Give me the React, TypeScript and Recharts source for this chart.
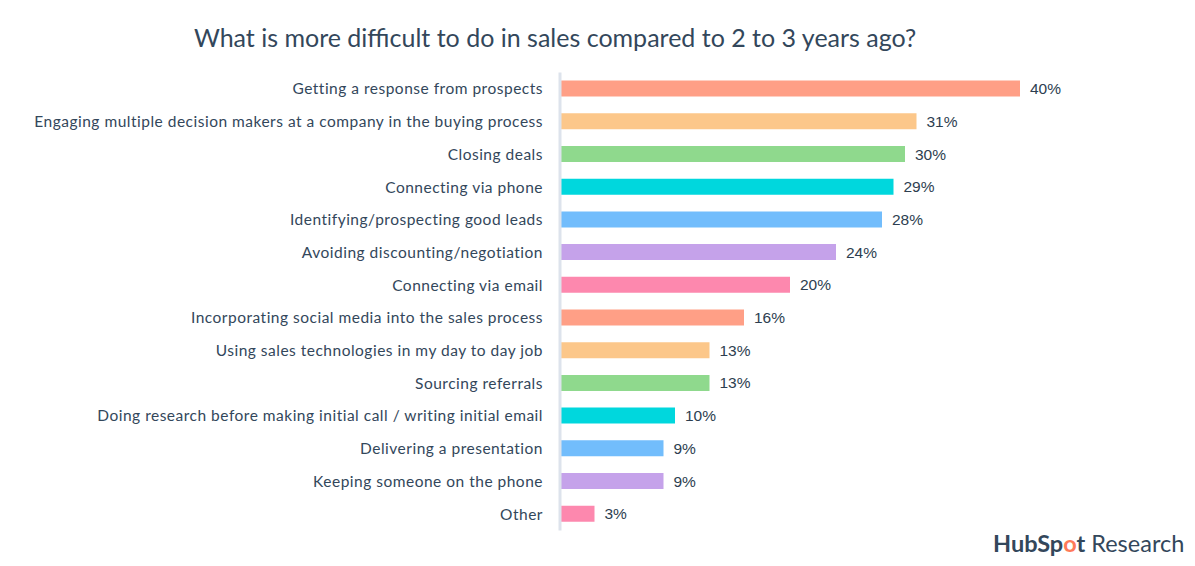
import React from 'react';
import { BarChart, Bar, XAxis, YAxis, Cell, LabelList } from 'recharts';

const categories = [
  'Getting a response from prospects',
  'Engaging multiple decision makers at a company in the buying process',
  'Closing deals',
  'Connecting via phone',
  'Identifying/prospecting good leads',
  'Avoiding discounting/negotiation',
  'Connecting via email',
  'Incorporating social media into the sales process',
  'Using sales technologies in my day to day job',
  'Sourcing referrals',
  'Doing research before making initial call / writing initial email',
  'Delivering a presentation',
  'Keeping someone on the phone',
  'Other',
];

const values = [40, 31, 30, 29, 28, 24, 20, 16, 13, 13, 10, 9, 9, 3];

const palette = ['#ff9f86', '#fcc78a', '#8fd98d', '#00d7dd', '#72bdfc', '#c5a2ea', '#fd88ae'];

const data = categories.map((name, i) => ({ name, value: values[i] }));

const textColor = '#33475b';

export default function App() {
  return (
    <div style={{ position: 'absolute', left: 0, top: 0, width: 1195, height: 566, background: '#fff' }}>
      <div
        style={{
          position: 'absolute',
          left: 0,
          width: 1110,
          top: 22,
          textAlign: 'center',
          fontFamily: 'Lato, sans-serif',
          fontSize: 25,
          color: textColor,
        }}
      >
        What is more difficult to do in sales compared to 2 to 3 years ago?
      </div>
      <BarChart
        width={1195}
        height={566}
        data={data}
        layout="vertical"
        margin={{ top: 72.6, right: 175, bottom: 35.6, left: 0 }}
        barSize={16}
      >
        <XAxis type="number" domain={[0, 40]} hide />
        <YAxis
          type="category"
          dataKey="name"
          width={560}
          interval={0}
          tickLine={false}
          tickSize={6}
          tickMargin={11}
          axisLine={{ stroke: '#dde3ec', strokeWidth: 3 }}
          tick={{ fill: textColor, fontSize: 15.5, letterSpacing: 0.5, fontFamily: 'Lato, sans-serif' }}
        />
        <Bar dataKey="value" isAnimationActive={false}>
          {data.map((d, i) => (
            <Cell key={d.name} fill={palette[i % palette.length]} />
          ))}
          <LabelList
            dataKey="value"
            position="right"
            offset={10}
            formatter={(v: number) => `${v}%`}
            style={{ fill: '#2d3e50', fontSize: 15.5, fontFamily: 'Liberation Sans, Arial, sans-serif' }}
          />
        </Bar>
      </BarChart>
      <div
        style={{
          position: 'absolute',
          left: 993,
          top: 529,
          fontFamily: 'Lato, sans-serif',
          fontSize: 23.5,
          color: textColor,
          whiteSpace: 'nowrap',
        }}
      >
        <span style={{ fontWeight: 700 }}>
          HubSp<span style={{ color: '#ff7a59' }}>o</span>t
        </span>{' '}
        <span>Research</span>
      </div>
    </div>
  );
}
